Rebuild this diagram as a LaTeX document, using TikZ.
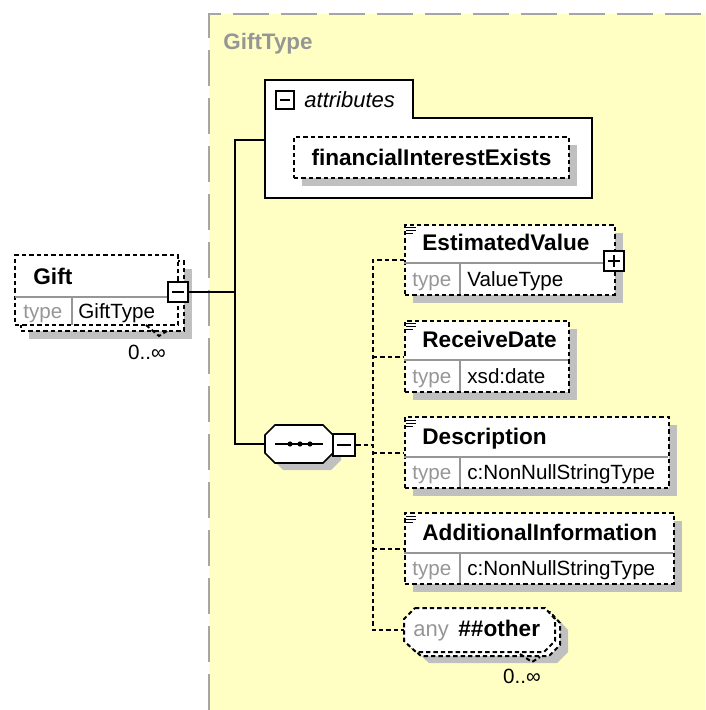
\documentclass[tikz,border=0pt]{standalone}
\usepackage{fontspec}
\setmainfont{Liberation Sans}
\usetikzlibrary{shadows}
\definecolor{bgyellow}{RGB}{255,255,196}
\definecolor{framegray}{RGB}{165,165,165}
\definecolor{shadowgray}{RGB}{192,192,192}
\definecolor{typegray}{RGB}{150,150,150}

\begin{document}
\begin{tikzpicture}[x=0.5pt,y=-0.5pt,
    dashline/.style={line width=1pt,dash pattern=on 2.2pt off 1.5pt},
    boxshadow/.style={drop shadow={shadow xshift=4pt,shadow yshift=-4pt,fill=shadowgray,opacity=1}},
    elem/.style={draw,fill=white,dashline,anchor=north west,inner sep=0pt,boxshadow},
    stacked/.style={draw,fill=white,dashline,inner sep=0pt,
      drop shadow={shadow xshift=7pt,shadow yshift=-7pt,fill=shadowgray,opacity=1},
      copy shadow={shadow xshift=3pt,shadow yshift=-3pt,draw,fill=white,dashline}},
    pm/.style={draw,fill=white,line width=1.1pt,minimum size=10pt,inner sep=0pt},
    minusbox/.style={pm,path picture={\draw[line width=0.7pt]
      ([xshift=2pt]path picture bounding box.west) -- ([xshift=-2pt]path picture bounding box.east);}},
    plusbox/.style={pm,path picture={\draw[line width=0.7pt]
      ([xshift=2pt]path picture bounding box.west) -- ([xshift=-2pt]path picture bounding box.east)
      ([yshift=2pt]path picture bounding box.south) -- ([yshift=-2pt]path picture bounding box.north);}},
    anchorbox/.style={inner sep=0pt},
    wire/.style={line width=0.8pt},
    link/.style={dashline},
    divline/.style={typegray,line width=0.6pt},
    docmark/.style={line width=0.5pt},
    elname/.style={anchor=base west,inner sep=0pt,font=\fontsize{11.3}{13}\selectfont\bfseries},
    typ/.style={anchor=base west,inner sep=0pt,text=typegray,font=\fontsize{10.3}{12}\selectfont},
    val/.style={anchor=base west,inner sep=0pt,font=\fontsize{10.3}{12}\selectfont},
    occ/.style={inner sep=0pt,font=\fontsize{10.3}{12}\selectfont}]
  \useasboundingbox (0,0) rectangle (705,710);

  % complex type area
  \fill[bgyellow] (209,14) rectangle (705,710);
  \draw[framegray,line width=1pt,dash pattern=on 18pt off 6pt] (209,710) -- (209,14) -- (705,14);
  \node[elname,text=typegray,font=\fontsize{11.2}{13}\selectfont\bfseries] (giftTypeTitle) at (223,50) {GiftType};

  % Gift element
  \node[stacked,minimum width=81.5pt,minimum height=35pt] (gift) at (96.5,290) {};
  \node[elname] (giftName) at (33,285) {Gift};
  \draw[divline] (15,297) -- (178,297) (72,297) -- (72,325);
  \node[typ] (giftTyp) at (23,319) {type};
  \node[val] (giftVal) at (78,319) {GiftType};
  \draw[dashline] (146,325) -- (159,336) -- (167,331);
  \node[occ] (giftOcc) at (147,352) {0..∞};
  \node[minusbox] (giftMinus) at (178,292) {};

  % attributes
  \draw[wire,fill=white] (265,118) -- (265,80) -- (413,80) -- (413,118) -- (592,118)
    -- (592,198) -- (265,198) -- cycle;
  \node[minusbox,minimum size=9pt,line width=0.9pt] (attrMinus) at (285,100) {};
  \node[anchor=base west,inner sep=0pt,font=\fontsize{11}{13}\selectfont\itshape] (attrText) at (304,108) {attributes};
  \node[elem,minimum width=137.5pt,minimum height=20.5pt,font=\fontsize{11.3}{13}\selectfont\bfseries]
    (finInt) at (293,136) {financialInterestExists};
  \coordinate (attrIn) at (265,140);

  % sequence
  \node[anchorbox,minimum width=34pt,minimum height=19pt] (seq) at (299,444) {};
  \fill[shadowgray,shift={(8,7)}] (275,425) -- (323,425) -- (333,435) -- (333,453) -- (323,463)
    -- (275,463) -- (265,453) -- (265,435) -- cycle;
  \draw[wire,fill=white] (275,425) -- (323,425) -- (333,435) -- (333,453) -- (323,463)
    -- (275,463) -- (265,453) -- (265,435) -- cycle;
  \draw[wire] (275,444) -- (323,444);
  \fill (290,444) circle[radius=1.3pt] (300,444) circle[radius=1.3pt] (310,444) circle[radius=1.3pt];
  \node[minusbox,minimum size=11pt] (seqMinus) at (344,445) {};
  \coordinate (trunk) at (235,292);
  \coordinate (spine) at (373,445);

  % child elements
  \node[elem,minimum width=105pt,minimum height=35pt] (estVal) at (404,224) {};
  \draw[docmark] (406,228) -- (416,228) (406,231) -- (416,231) (406,234) -- (413,234);
  \node[elname] at (422,251) {EstimatedValue};
  \draw[divline] (404,263) -- (614,263) (460,263) -- (460,294);
  \node[typ] at (412,287) {type};
  \node[val] at (467,287) {ValueType};
  \node[plusbox] (estPlus) at (614,261) {};

  \node[elem,minimum width=82pt,minimum height=35.5pt] (recDate) at (404,320) {};
  \draw[docmark] (406,324) -- (416,324) (406,327) -- (416,327) (406,330) -- (413,330);
  \node[elname] at (422,348) {ReceiveDate};
  \draw[divline] (404,360) -- (568,360) (460,360) -- (460,391);
  \node[typ] at (412,383) {type};
  \node[val] at (467,383) {xsd:date};

  \node[elem,minimum width=132pt,minimum height=35.5pt] (descr) at (404,416) {};
  \draw[docmark] (406,420) -- (416,420) (406,423) -- (416,423) (406,426) -- (413,426);
  \node[elname] at (422,444) {Description};
  \draw[divline] (404,457) -- (668,457) (460,457) -- (460,487);
  \node[typ] at (412,479) {type};
  \node[val] at (467,479) {c:NonNullStringType};

  \node[elem,minimum width=134.5pt,minimum height=35.5pt] (addInfo) at (404,512) {};
  \draw[docmark] (406,516) -- (416,516) (406,519) -- (416,519) (406,522) -- (413,522);
  \node[elname] at (422,540) {AdditionalInformation};
  \draw[divline] (404,553) -- (673,553) (460,553) -- (460,583);
  \node[typ] at (412,575) {type};
  \node[val] at (467,575) {c:NonNullStringType};

  % any ##other
  \node[anchorbox,minimum width=75.5pt,minimum height=22pt] (anyOther) at (479.5,630) {};
  \fill[shadowgray,shift={(13,11)}] (415,608) -- (545,608) -- (555,619) -- (555,641) -- (544,652)
    -- (416,652) -- (404,641) -- (404,619) -- cycle;
  \draw[dashline,fill=white,shift={(5,4)}] (415,608) -- (545,608) -- (555,619) -- (555,641) -- (544,652)
    -- (416,652) -- (404,641) -- (404,619) -- cycle;
  \draw[dashline,fill=white] (415,608) -- (545,608) -- (555,619) -- (555,641) -- (544,652)
    -- (416,652) -- (404,641) -- (404,619) -- cycle;
  \node[typ,font=\fontsize{11}{13}\selectfont] at (413,636) {any};
  \node[elname] at (458,636) {\#\#other};
  \draw[dashline] (520,654) -- (532,662) -- (540,657);
  \node[occ] (anyOcc) at (522,676) {0..∞};

  % connectors
  \draw[wire] (giftMinus.east) -- (trunk);
  \draw[wire] (attrIn) -| (trunk) |- (seq.west);
  \draw[link] (seqMinus.east) -- (spine);
  \draw[link] (estVal.west) -| (spine) |- (anyOther.west);
  \draw[link] (spine |- recDate.west) -- (recDate.west);
  \draw[link] (spine |- descr.west) -- (descr.west);
  \draw[link] (spine |- addInfo.west) -- (addInfo.west);
\end{tikzpicture}
\end{document}
